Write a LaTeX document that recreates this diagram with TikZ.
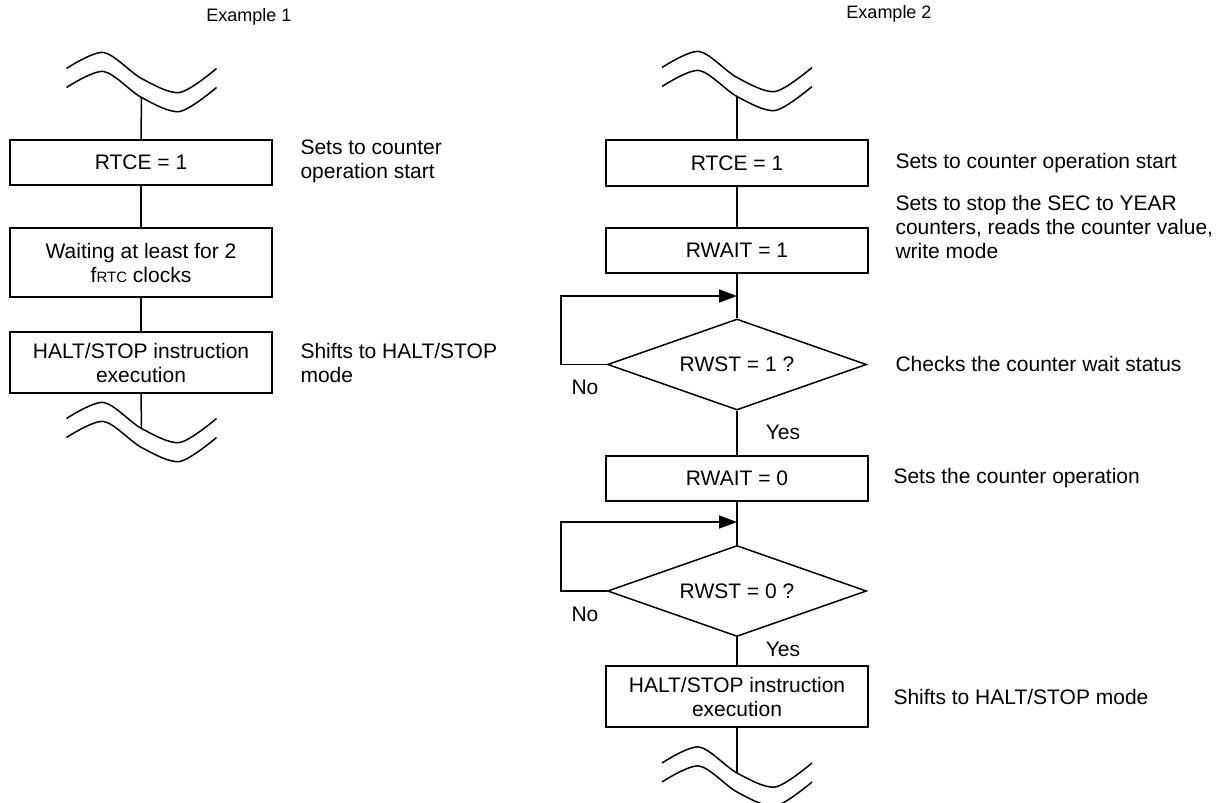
\documentclass[tikz,border=0pt]{standalone}
\usepackage{fontspec}
\setmainfont{Liberation Sans}
\usetikzlibrary{
    shapes.geometric,
    arrows.meta
}
\definecolor{ink}{RGB}{0,0,0}
\tikzset{
    process/.style={
        rectangle,
        draw=ink,
        minimum width=262pt,
        inner sep=2pt,
        align=center,
        font=\fontsize{21}{24}\selectfont,
        line width=1.5pt
    },
    decision/.style={
        diamond,
        draw=ink,
        aspect=2.85,
        minimum width=259pt,
        minimum height=91pt,
        inner sep=0pt,
        font=\fontsize{21}{24}\selectfont,
        line width=1.5pt
    },
    note/.style={
        anchor=west,
        align=left,
        font=\fontsize{21}{24}\selectfont
    },
    answer/.style={
        font=\fontsize{21}{24}\selectfont
    },
    title/.style={
        font=\fontsize{18}{21}\selectfont
    },
    line/.style={
        draw=ink,
        line width=1.5pt
    },
    loopback/.style={
        -{Triangle[length=18pt,width=13pt]},
        draw=ink,
        line width=1.5pt
    }
}

\begin{document}
\begin{tikzpicture}[x=1pt, y=-1pt]
        \useasboundingbox (0,0) rectangle (1224,803);

        % Titles
        \node[title] (ex1) at (249,17) {Example 1};
        \node[title] (ex2) at (889,14) {Example 2};

        % Break marks
        \foreach \cx/\cy/\name in {
            141.5/72.5/wa,
            141.5/422.5/wb,
            737/71.5/wc,
            737/767/wd%
        } {
            \draw[line, shift={(\cx,\cy)}] plot[smooth]
                coordinates {(-75,-4) (-38,-20) (0,6) (38,20) (75,-4)};
            \draw[line, shift={(\cx,\cy+19)}] plot[smooth]
                coordinates {(-75,-4) (-38,-20) (0,6) (38,20) (75,-4)};
            \coordinate (\name-up) at (\cx,\cy+6);
            \coordinate (\name-lo) at (\cx,\cy+25);
        }

        % Example 1
        \node[process, minimum height=45pt] (rtce1) at (141,162.5) {RTCE = 1};
        \node[process, minimum height=69pt] (wait) at (141,262.5)
            {Waiting at least for 2\\f{\fontsize{15}{15}\selectfont RTC} clocks};
        \node[process, minimum height=61pt] (halt1) at (141,362.5)
            {HALT/STOP instruction\\execution};
        \draw[line] (wa-lo) -- (rtce1.north);
        \draw[line] (rtce1.south) -- (wait.north);
        \draw[line] (wait.south) -- (halt1.north);
        \draw[line] (halt1.south) -- (wb-up);
        \node[note] (n11) at (297,161) {Sets to counter\\operation start};
        \node[note] (n12) at (297,363) {Shifts to HALT/STOP\\mode};

        % Example 2
        \node[process, minimum height=46pt] (rtce2) at (737,163) {RTCE = 1};
        \node[process, minimum height=45pt] (rwait1) at (737,250.5) {RWAIT = 1};
        \node[decision] (rwst1) at (737,364.5) {RWST = 1 ?};
        \node[process, minimum height=45pt] (rwait0) at (737,478.5) {RWAIT = 0};
        \node[decision] (rwst0) at (737,591) {RWST = 0 ?};
        \node[process, minimum height=61pt] (halt2) at (737,696.5)
            {HALT/STOP instruction\\execution};
        \coordinate (j1) at (737,296);
        \coordinate (j0) at (737,522);
        \draw[line] (wc-lo) -- (rtce2.north);
        \draw[line] (rtce2.south) -- (rwait1.north);
        \draw[line] (rwait1.south) -- (rwst1.north);
        \draw[line] (rwst1.south) -- (rwait0.north);
        \draw[line] (rwait0.south) -- (rwst0.north);
        \draw[line] (rwst0.south) -- (halt2.north);
        \draw[line] (halt2.south) -- (wd-up);
        \draw[loopback] (rwst1.west) -- ++(-46,0) |- (j1);
        \draw[loopback] (rwst0.west) -- ++(-46,0) |- (j0);
        \node[answer] (no1) at (585,387) {No};
        \node[answer] (yes1) at (783,432) {Yes};
        \node[answer] (no0) at (585,614) {No};
        \node[answer] (yes0) at (783,649) {Yes};
        \node[note] (n21) at (892,163) {Sets to counter operation start};
        \node[note] (n22) at (892,227)
            {Sets to stop the SEC to YEAR\\counters, reads the counter value,\\write mode};
        \node[note] (n23) at (892,364) {Checks the counter wait status};
        \node[note] (n24) at (890,478) {Sets the counter operation};
        \node[note] (n25) at (890,697) {Shifts to HALT/STOP mode};
    \end{tikzpicture}
\end{document}
